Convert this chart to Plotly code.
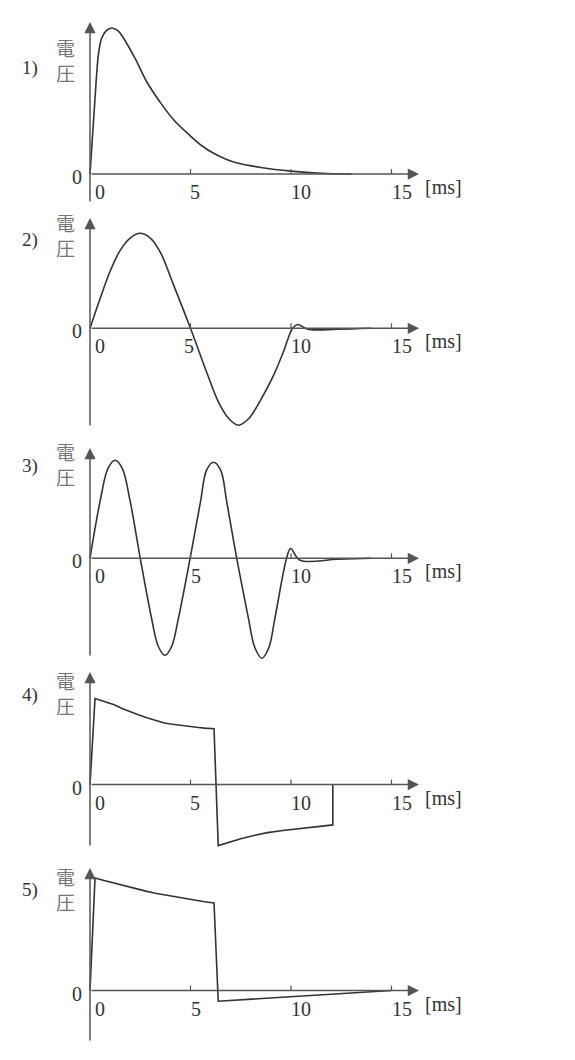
import plotly.graph_objects as go

# ---------------- data (time in ms, voltage in relative units per panel) ----------------
t1 = [0, 0.25, 0.42, 0.58, 0.8, 1.08, 1.4, 1.67, 2.25, 2.83, 3.5, 4.17, 5.0, 5.6, 6.17, 6.8, 7.33, 8.5, 10.0, 11.5, 13.0]
v1 = [0, 0.52, 0.82, 0.93, 0.98, 1.0, 0.98, 0.93, 0.79, 0.63, 0.49, 0.37, 0.26, 0.19, 0.14, 0.10, 0.075, 0.045, 0.02, 0.005, 0.0]

t2 = [0, 0.5, 1.0, 1.5, 2.0, 2.49, 3.0, 3.5, 4.15, 5.0, 5.8, 6.4, 6.9, 7.38, 7.9, 8.5, 9.12, 9.6, 10.08, 10.33, 10.83, 12.3, 14.0]
v2 = [0, 0.31, 0.60, 0.82, 0.95, 1.0, 0.95, 0.80, 0.46, 0.0, -0.46, -0.78, -0.95, -1.02, -0.95, -0.75, -0.50, -0.26, 0.0, 0.04, -0.01, -0.01, 0.0]

t3 = [0, 0.5, 0.9, 1.25, 1.6, 2.0, 2.5, 3.06, 3.4, 3.73, 4.06, 4.4, 4.98, 5.5, 5.8, 6.15, 6.5, 6.8, 7.3, 7.88, 8.2, 8.55, 8.9, 9.2, 9.78, 9.98, 10.45, 12.3, 14.0]
v3 = [0, 0.58, 0.92, 1.0, 0.92, 0.58, 0.0, -0.61, -0.90, -0.99, -0.90, -0.61, 0.0, 0.58, 0.90, 0.98, 0.90, 0.58, 0.0, -0.61, -0.91, -1.02, -0.91, -0.61, 0.0, 0.10, -0.02, -0.01, 0.0]

t4 = [0, 0.25, 0.7, 1.17, 1.6, 2.0, 2.4, 2.83, 3.25, 3.7, 4.1, 4.5, 4.9, 5.3, 5.7, 6.17, 6.38, 6.9, 7.5, 8.2, 8.83, 9.6, 10.5, 11.3, 12.08, 12.08]
v4 = [0, 1.0, 0.965, 0.93, 0.885, 0.845, 0.81, 0.776, 0.745, 0.715, 0.70, 0.686, 0.675, 0.665, 0.656, 0.648, -0.71, -0.67, -0.63, -0.59, -0.56, -0.535, -0.51, -0.49, -0.47, 0.0]

t5 = [0, 0.25, 0.7, 1.17, 1.6, 2.0, 2.4, 2.83, 3.25, 3.7, 4.1, 4.5, 4.9, 5.3, 5.7, 6.17, 6.38, 15.0]
v5 = [0, 1.0, 0.978, 0.956, 0.935, 0.915, 0.897, 0.881, 0.865, 0.85, 0.836, 0.823, 0.811, 0.80, 0.789, 0.778, -0.095, 0.0]

tick_values = [0, 5, 10, 15]
tick_labels = ["0", "5", "10", "15"]
panel_labels = ["1)", "2)", "3)", "4)", "5)"]
y_label = "電<br>圧"
unit_label = "[ms]"

# ---------------- layout constants (pixels) ----------------
W, H = 575, 1060
X0_PX = 90.0
PX_PER_MS = 20.1
T_TIP = (419 - X0_PX) / PX_PER_MS
AXIS_C = "#555555"
CURVE_C = "#333333"
TEXT_C = "#333333"
CJK_C = "#777777"
SERIF = "Liberation Serif, Times New Roman, serif"
CJK = "Noto Sans CJK JP, sans-serif"

panels = [
    dict(t=t1, v=v1, shape="spline", zero=174.0, scale=146.0, bot=203, top=22, lab=68, ylab=60, s5=4),
    dict(t=t2, v=v2, shape="spline", zero=328.3, scale=95.0, bot=427, top=218, lab=240, ylab=235, s5=-2),
    dict(t=t3, v=v3, shape="spline", zero=558.3, scale=98.0, bot=657, top=448, lab=466, ylab=464, s5=5),
    dict(t=t4, v=v4, shape="linear", zero=784.5, scale=86.0, bot=847, top=672, lab=695, ylab=693, s5=4),
    dict(t=t5, v=v5, shape="linear", zero=990.5, scale=112.5, bot=1042, top=868, lab=890, ylab=889, s5=5),
]

fig = go.Figure()
annotations = []
shapes = []
layout_axes = {}


def px_y(py):
    return 1 - py / H


def px_x(px):
    return px / W


for i, p in enumerate(panels):
    yname = "y" if i == 0 else f"y{i + 1}"
    ykey = "yaxis" if i == 0 else f"yaxis{i + 1}"
    zero, scale = p["zero"], p["scale"]
    ymin = (zero - H) / scale
    ymax = zero / scale
    ax_cfg = dict(range=[ymin, ymax], domain=[0, 1], visible=False, fixedrange=True)
    if i > 0:
        ax_cfg["overlaying"] = "y"
    layout_axes[ykey] = ax_cfg

    line_cfg = dict(color=CURVE_C, width=1.6, shape=p["shape"])
    if p["shape"] == "spline":
        line_cfg["smoothing"] = 1.0
    fig.add_trace(go.Scatter(x=p["t"], y=p["v"], mode="lines", line=line_cfg,
                             xaxis="x", yaxis=yname, hoverinfo="skip", showlegend=False))

    # x axis arrow
    annotations.append(dict(x=T_TIP, y=0, ax=0, ay=0, xref="x", yref=yname, axref="x", ayref=yname,
                            text="", showarrow=True, arrowhead=2, arrowsize=1.5, arrowwidth=1.5,
                            arrowcolor=AXIS_C))
    # y axis arrow
    annotations.append(dict(x=0, y=(zero - p["top"]) / scale, ax=0, ay=(zero - p["bot"]) / scale,
                            xref="x", yref=yname, axref="x", ayref=yname,
                            text="", showarrow=True, arrowhead=2, arrowsize=1.5, arrowwidth=1.5,
                            arrowcolor=AXIS_C))
    # ticks
    for tv in tick_values[1:]:
        shapes.append(dict(type="line", xref="x", yref=yname, x0=tv, x1=tv, ysizemode="pixel",
                           yanchor=0, y0=0, y1=5, line=dict(color=AXIS_C, width=1.2)))
    # tick labels
    for tv, tl in zip(tick_values, tick_labels):
        xs = p["s5"] if tl == "5" else 10
        annotations.append(dict(x=tv, y=0, xref="x", yref=yname, text=tl, showarrow=False,
                                xshift=xs, yshift=-18, xanchor="center", yanchor="middle",
                                font=dict(family=SERIF, size=20, color=TEXT_C)))
    # zero label on y axis
    annotations.append(dict(x=0, y=0, xref="x", yref=yname, text="0", showarrow=False,
                            xshift=-13, yshift=-3, xanchor="center", yanchor="middle",
                            font=dict(family=SERIF, size=20, color=TEXT_C)))
    # unit label
    annotations.append(dict(x=px_x(443), y=px_y(zero + 13), xref="paper", yref="paper",
                            text=unit_label, showarrow=False, xanchor="center", yanchor="middle",
                            font=dict(family=SERIF, size=20, color=TEXT_C)))
    # panel number
    annotations.append(dict(x=px_x(30), y=px_y(p["lab"]), xref="paper", yref="paper",
                            text=panel_labels[i], showarrow=False, xanchor="center", yanchor="middle",
                            font=dict(family=SERIF, size=19, color=TEXT_C)))
    # 電圧 (stacked vertically)
    annotations.append(dict(x=px_x(65), y=px_y(p["ylab"]), xref="paper", yref="paper",
                            text=y_label, showarrow=False, xanchor="center", yanchor="middle",
                            align="center",
                            font=dict(family=CJK, size=19, color=CJK_C)))

fig.update_layout(
    width=W, height=H,
    margin=dict(l=0, r=0, t=0, b=0, pad=0),
    paper_bgcolor="white", plot_bgcolor="white",
    xaxis=dict(range=[-X0_PX / PX_PER_MS, (W - X0_PX) / PX_PER_MS], domain=[0, 1],
               visible=False, fixedrange=True),
    annotations=annotations,
    shapes=shapes,
    showlegend=False,
    **layout_axes,
)

fig.write_html("out.html", config=dict(displayModeBar=False, staticPlot=True))
